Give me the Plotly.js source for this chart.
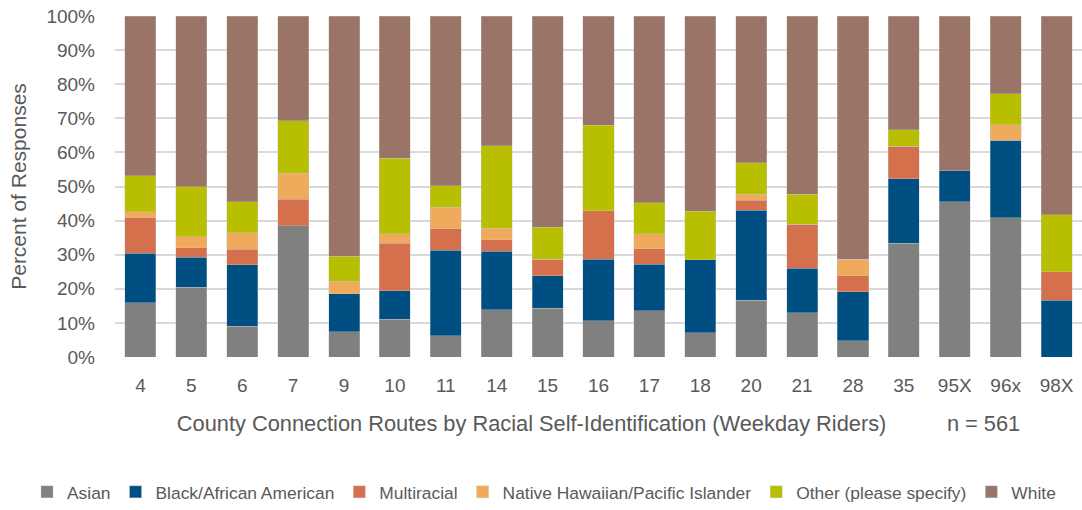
<!DOCTYPE html>
<html>
<head>
<meta charset="utf-8">
<script src="https://cdn.plot.ly/plotly-3.0.1.min.js"></script>
<style>html,body{margin:0;padding:0;background:#fff;}#chart{width:1082px;height:510px;}</style>
</head>
<body>
<div id="chart"></div>
<script>
const routes = ["4","5","6","7","9","10","11","14","15","16","17","18","20","21","28","35","95X","96x","98X"];
const asian       = [15.9,20.5,9.0,38.5,7.4,11.1,6.3,13.8,14.3,10.7,13.6,7.1,16.7,13.0,4.8,33.3,45.5,40.9,0];
const black       = [14.5,8.7,18.1,0,11.1,8.3,25.0,17.2,9.5,17.9,13.6,21.4,26.3,13.0,14.3,19.0,9.1,22.7,16.7];
const multiracial = [10.5,2.9,4.5,7.7,0,13.9,6.3,3.4,4.8,14.3,4.5,0,3.0,13.0,4.8,9.5,0,0,8.3];
const nhpi        = [1.7,3.1,4.8,7.7,3.7,2.8,6.3,3.4,0,0,4.5,0,1.7,0,4.8,0,0,4.5,0];
const other       = [10.5,14.8,9.1,15.4,7.4,22.2,6.3,24.1,9.5,25.0,9.1,14.3,9.2,8.7,0,4.8,0,9.1,16.7];
const white       = [46.9,50.0,54.5,30.7,70.4,41.7,49.8,38.1,61.9,32.1,54.7,57.2,43.1,52.3,71.3,33.4,45.4,22.8,58.3];

const seriesNames = ["Asian","Black/African American","Multiracial","Native Hawaiian/Pacific Islander","Other (please specify)","White"];
const seriesData = [asian,black,multiracial,nhpi,other,white];
const colors = ["#808080","#004F82","#D4704C","#EFAA5C","#B7BF00","#9A7567"];

const font = "Liberation Sans, Arial, sans-serif";
const traces = seriesNames.map((n,i)=>({
  type:"bar", name:n, x:routes, y:seriesData[i].map(v=>v/100),
  marker:{color:colors[i], line:{color:"rgba(200,200,200,0.6)", width:0.6}},
  hoverinfo:"name+y"
}));

const layout = {
  width:1082, height:510,
  margin:{l:115, r:0, t:16, b:153},
  barmode:"stack", bargap:0.39,
  paper_bgcolor:"#fff", plot_bgcolor:"#fff",
  font:{family:font, color:"#595959", size:18},
  xaxis:{
    type:"category", tickfont:{size:19, color:"#595959"},
    showgrid:false, zeroline:false, showline:false, ticks:"", ticklabelstandoff:15,
    title:{text:"County Connection Routes by Racial Self-Identification (Weekday Riders)          n = 561", font:{size:21.8, color:"#595959"}, standoff:20}
  },
  yaxis:{
    range:[0,1], tickformat:".0%", dtick:0.1, tickfont:{size:19, color:"#595959"},
    gridcolor:"#d9d9d9", gridwidth:1.5, zeroline:false, showline:false, ticks:"",
    ticklabelstandoff:19,
    title:{text:"Percent of Responses", font:{size:21, color:"#595959"}, standoff:14}
  },
  showlegend:true,
  legend:{orientation:"h", xref:"paper", yref:"paper", x:-0.091, xanchor:"left", y:-0.396, yanchor:"middle",
    font:{size:17.4, color:"#595959"}, traceorder:"normal", itemwidth:30, tracegroupgap:0},
  hovermode:"closest"
};
Plotly.newPlot("chart", traces, layout, {displayModeBar:false, staticPlot:false});
</script>
</body>
</html>
